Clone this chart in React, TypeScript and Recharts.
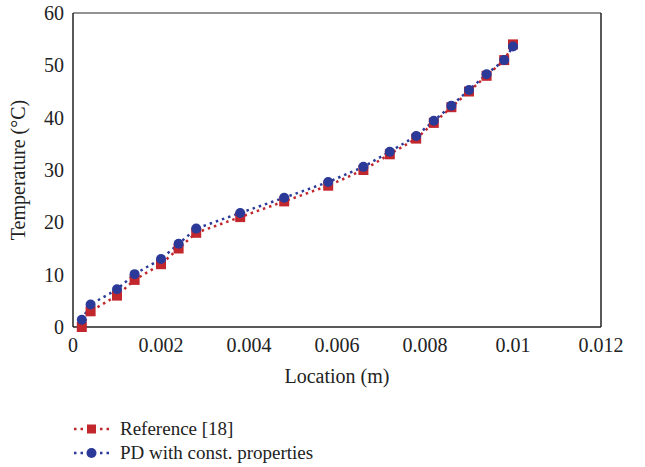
import { LineChart, Line, XAxis, YAxis, ReferenceLine } from 'recharts'

const locations = [
  0.0002, 0.0004, 0.001, 0.0014, 0.002, 0.0024, 0.0028, 0.0038, 0.0048, 0.0058,
  0.0066, 0.0072, 0.0078, 0.0082, 0.0086, 0.009, 0.0094, 0.0098, 0.01,
]
const referenceTemps = [0, 3, 6, 9, 12, 15, 18, 21, 24, 27, 30, 33, 36, 39, 42, 45, 48, 51, 54]
const pdTemps = [
  1.4, 4.3, 7.2, 10.1, 13, 15.9, 18.8, 21.8, 24.7, 27.7, 30.6, 33.5, 36.5, 39.4, 42.3, 45.3,
  48.3, 51, 53.6,
]
const xTicks = [0, 0.002, 0.004, 0.006, 0.008, 0.01, 0.012]
const yTicks = [0, 10, 20, 30, 40, 50, 60]

const RED = '#c1272d'
const BLUE = '#2b3a98'
const FONT = '"Liberation Serif", "DejaVu Serif", serif'

const data = locations.map((x, i) => ({ x, ref: referenceTemps[i], pd: pdTemps[i] }))

const legendItems = [
  { name: 'Reference [18]', color: RED, shape: 'square' },
  { name: 'PD with const. properties', color: BLUE, shape: 'circle' },
]

function SquareDot(props: any) {
  const { cx, cy, index } = props
  if (cx == null || cy == null) return null
  return <rect key={index} x={cx - 5} y={cy - 5} width={10} height={10} fill={RED} />
}

function CircleDot(props: any) {
  const { cx, cy, index } = props
  if (cx == null || cy == null) return null
  return <circle key={index} cx={cx} cy={cy} r={5} fill={BLUE} />
}

function ChartLegend() {
  return (
    <div style={{ fontFamily: FONT, fontSize: 19, color: '#222' }}>
      {legendItems.map((item) => (
        <div key={item.name} style={{ display: 'flex', alignItems: 'center', height: 24 }}>
          <svg width={48} height={14}>
            <line x1={2} y1={7} x2={38} y2={7} stroke={item.color} strokeWidth={2.5} strokeDasharray="2.5 4" />
            {item.shape === 'square' ? (
              <rect x={15} y={2.5} width={9} height={9} fill={item.color} />
            ) : (
              <circle cx={19.5} cy={7} r={5} fill={item.color} />
            )}
          </svg>
          <span>{item.name}</span>
        </div>
      ))}
    </div>
  )
}

export default function App() {
  return (
    <div style={{ position: 'absolute', left: 0, top: 0, width: 645, height: 467, background: '#fff' }}>
      <LineChart width={645} height={467} data={data} margin={{ top: 13, right: 44, left: 0, bottom: 80 }}>
        <XAxis
          dataKey="x"
          type="number"
          domain={[0, 0.012]}
          ticks={xTicks}
          tickLine={false}
          axisLine={{ stroke: '#222', strokeWidth: 1.5 }}
          tick={{ fill: '#222', fontSize: 20, fontFamily: FONT }}
          tickMargin={5}
          height={60}
          label={{ value: 'Location (m)', position: 'insideBottom', offset: 4, fill: '#222', fontSize: 20, fontFamily: FONT }}
        />
        <YAxis
          type="number"
          domain={[0, 60]}
          ticks={yTicks}
          tickLine={false}
          width={73}
          axisLine={{ stroke: '#222', strokeWidth: 1.5 }}
          tick={{ fill: '#222', fontSize: 20, fontFamily: FONT }}
          tickMargin={3}
          label={{
            value: 'Temperature (°C)',
            angle: -90,
            position: 'insideLeft',
            offset: 18,
            style: { textAnchor: 'middle', fill: '#222', fontSize: 20, fontFamily: FONT },
          }}
        />
        <ReferenceLine y={60} stroke="#6e6e6e" strokeWidth={1.5} />
        <ReferenceLine x={0.012} stroke="#222" strokeWidth={1.5} />
        <Line
          dataKey="ref"
          name="Reference [18]"
          stroke={RED}
          strokeWidth={2.5}
          strokeDasharray="2.5 4"
          dot={SquareDot}
          activeDot={false}
          isAnimationActive={false}
        />
        <Line
          dataKey="pd"
          name="PD with const. properties"
          stroke={BLUE}
          strokeWidth={2.5}
          strokeDasharray="2.5 4"
          dot={CircleDot}
          activeDot={false}
          isAnimationActive={false}
        />
      </LineChart>
      <div style={{ position: 'absolute', left: 72, top: 417 }}>
        <ChartLegend />
      </div>
    </div>
  )
}
